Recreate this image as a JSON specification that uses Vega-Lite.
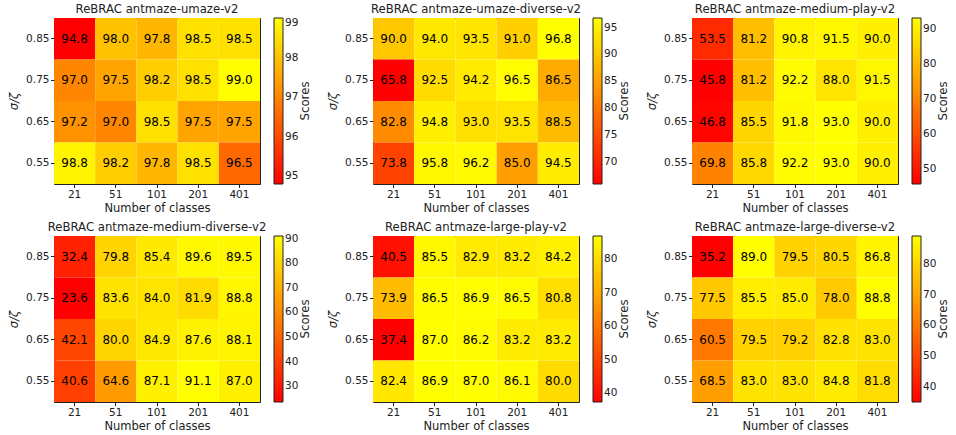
{
  "$schema": "https://vega.github.io/schema/vega-lite/v6.json",
  "padding": {"left": 8, "top": 3, "right": 0, "bottom": 0},
  "background": "white",
  "columns": 3,
  "spacing": {"row": 7, "column": 14},
  "datasets": {
    "umaze": [
      {"sigma": 0.85, "classes": 21, "score": 94.8}, {"sigma": 0.85, "classes": 51, "score": 98.0}, {"sigma": 0.85, "classes": 101, "score": 97.8}, {"sigma": 0.85, "classes": 201, "score": 98.5}, {"sigma": 0.85, "classes": 401, "score": 98.5},
      {"sigma": 0.75, "classes": 21, "score": 97.0}, {"sigma": 0.75, "classes": 51, "score": 97.5}, {"sigma": 0.75, "classes": 101, "score": 98.2}, {"sigma": 0.75, "classes": 201, "score": 98.5}, {"sigma": 0.75, "classes": 401, "score": 99.0},
      {"sigma": 0.65, "classes": 21, "score": 97.2}, {"sigma": 0.65, "classes": 51, "score": 97.0}, {"sigma": 0.65, "classes": 101, "score": 98.5}, {"sigma": 0.65, "classes": 201, "score": 97.5}, {"sigma": 0.65, "classes": 401, "score": 97.5},
      {"sigma": 0.55, "classes": 21, "score": 98.8}, {"sigma": 0.55, "classes": 51, "score": 98.2}, {"sigma": 0.55, "classes": 101, "score": 97.8}, {"sigma": 0.55, "classes": 201, "score": 98.5}, {"sigma": 0.55, "classes": 401, "score": 96.5}
    ],
    "umazediv": [
      {"sigma": 0.85, "classes": 21, "score": 90.0}, {"sigma": 0.85, "classes": 51, "score": 94.0}, {"sigma": 0.85, "classes": 101, "score": 93.5}, {"sigma": 0.85, "classes": 201, "score": 91.0}, {"sigma": 0.85, "classes": 401, "score": 96.8},
      {"sigma": 0.75, "classes": 21, "score": 65.8}, {"sigma": 0.75, "classes": 51, "score": 92.5}, {"sigma": 0.75, "classes": 101, "score": 94.2}, {"sigma": 0.75, "classes": 201, "score": 96.5}, {"sigma": 0.75, "classes": 401, "score": 86.5},
      {"sigma": 0.65, "classes": 21, "score": 82.8}, {"sigma": 0.65, "classes": 51, "score": 94.8}, {"sigma": 0.65, "classes": 101, "score": 93.0}, {"sigma": 0.65, "classes": 201, "score": 93.5}, {"sigma": 0.65, "classes": 401, "score": 88.5},
      {"sigma": 0.55, "classes": 21, "score": 73.8}, {"sigma": 0.55, "classes": 51, "score": 95.8}, {"sigma": 0.55, "classes": 101, "score": 96.2}, {"sigma": 0.55, "classes": 201, "score": 85.0}, {"sigma": 0.55, "classes": 401, "score": 94.5}
    ],
    "medplay": [
      {"sigma": 0.85, "classes": 21, "score": 53.5}, {"sigma": 0.85, "classes": 51, "score": 81.2}, {"sigma": 0.85, "classes": 101, "score": 90.8}, {"sigma": 0.85, "classes": 201, "score": 91.5}, {"sigma": 0.85, "classes": 401, "score": 90.0},
      {"sigma": 0.75, "classes": 21, "score": 45.8}, {"sigma": 0.75, "classes": 51, "score": 81.2}, {"sigma": 0.75, "classes": 101, "score": 92.2}, {"sigma": 0.75, "classes": 201, "score": 88.0}, {"sigma": 0.75, "classes": 401, "score": 91.5},
      {"sigma": 0.65, "classes": 21, "score": 46.8}, {"sigma": 0.65, "classes": 51, "score": 85.5}, {"sigma": 0.65, "classes": 101, "score": 91.8}, {"sigma": 0.65, "classes": 201, "score": 93.0}, {"sigma": 0.65, "classes": 401, "score": 90.0},
      {"sigma": 0.55, "classes": 21, "score": 69.8}, {"sigma": 0.55, "classes": 51, "score": 85.8}, {"sigma": 0.55, "classes": 101, "score": 92.2}, {"sigma": 0.55, "classes": 201, "score": 93.0}, {"sigma": 0.55, "classes": 401, "score": 90.0}
    ],
    "meddiv": [
      {"sigma": 0.85, "classes": 21, "score": 32.4}, {"sigma": 0.85, "classes": 51, "score": 79.8}, {"sigma": 0.85, "classes": 101, "score": 85.4}, {"sigma": 0.85, "classes": 201, "score": 89.6}, {"sigma": 0.85, "classes": 401, "score": 89.5},
      {"sigma": 0.75, "classes": 21, "score": 23.6}, {"sigma": 0.75, "classes": 51, "score": 83.6}, {"sigma": 0.75, "classes": 101, "score": 84.0}, {"sigma": 0.75, "classes": 201, "score": 81.9}, {"sigma": 0.75, "classes": 401, "score": 88.8},
      {"sigma": 0.65, "classes": 21, "score": 42.1}, {"sigma": 0.65, "classes": 51, "score": 80.0}, {"sigma": 0.65, "classes": 101, "score": 84.9}, {"sigma": 0.65, "classes": 201, "score": 87.6}, {"sigma": 0.65, "classes": 401, "score": 88.1},
      {"sigma": 0.55, "classes": 21, "score": 40.6}, {"sigma": 0.55, "classes": 51, "score": 64.6}, {"sigma": 0.55, "classes": 101, "score": 87.1}, {"sigma": 0.55, "classes": 201, "score": 91.1}, {"sigma": 0.55, "classes": 401, "score": 87.0}
    ],
    "largeplay": [
      {"sigma": 0.85, "classes": 21, "score": 40.5}, {"sigma": 0.85, "classes": 51, "score": 85.5}, {"sigma": 0.85, "classes": 101, "score": 82.9}, {"sigma": 0.85, "classes": 201, "score": 83.2}, {"sigma": 0.85, "classes": 401, "score": 84.2},
      {"sigma": 0.75, "classes": 21, "score": 73.9}, {"sigma": 0.75, "classes": 51, "score": 86.5}, {"sigma": 0.75, "classes": 101, "score": 86.9}, {"sigma": 0.75, "classes": 201, "score": 86.5}, {"sigma": 0.75, "classes": 401, "score": 80.8},
      {"sigma": 0.65, "classes": 21, "score": 37.4}, {"sigma": 0.65, "classes": 51, "score": 87.0}, {"sigma": 0.65, "classes": 101, "score": 86.2}, {"sigma": 0.65, "classes": 201, "score": 83.2}, {"sigma": 0.65, "classes": 401, "score": 83.2},
      {"sigma": 0.55, "classes": 21, "score": 82.4}, {"sigma": 0.55, "classes": 51, "score": 86.9}, {"sigma": 0.55, "classes": 101, "score": 87.0}, {"sigma": 0.55, "classes": 201, "score": 86.1}, {"sigma": 0.55, "classes": 401, "score": 80.0}
    ],
    "largediv": [
      {"sigma": 0.85, "classes": 21, "score": 35.2}, {"sigma": 0.85, "classes": 51, "score": 89.0}, {"sigma": 0.85, "classes": 101, "score": 79.5}, {"sigma": 0.85, "classes": 201, "score": 80.5}, {"sigma": 0.85, "classes": 401, "score": 86.8},
      {"sigma": 0.75, "classes": 21, "score": 77.5}, {"sigma": 0.75, "classes": 51, "score": 85.5}, {"sigma": 0.75, "classes": 101, "score": 85.0}, {"sigma": 0.75, "classes": 201, "score": 78.0}, {"sigma": 0.75, "classes": 401, "score": 88.8},
      {"sigma": 0.65, "classes": 21, "score": 60.5}, {"sigma": 0.65, "classes": 51, "score": 79.5}, {"sigma": 0.65, "classes": 101, "score": 79.2}, {"sigma": 0.65, "classes": 201, "score": 82.8}, {"sigma": 0.65, "classes": 401, "score": 83.0},
      {"sigma": 0.55, "classes": 21, "score": 68.5}, {"sigma": 0.55, "classes": 51, "score": 83.0}, {"sigma": 0.55, "classes": 101, "score": 83.0}, {"sigma": 0.55, "classes": 201, "score": 84.8}, {"sigma": 0.55, "classes": 401, "score": 81.8}
    ]
  },
  "concat": [
    {
      "title": "ReBRAC antmaze-umaze-v2",
      "data": {"name": "umaze"},
      "width": 206, "height": 166,
      "encoding": {
        "x": {"field": "classes", "type": "ordinal", "title": "Number of classes"},
        "y": {"field": "sigma", "type": "ordinal", "sort": "descending", "title": "σ/ζ"}
      },
      "layer": [
        {"mark": "rect", "encoding": {"color": {"field": "score", "type": "quantitative", "scale": {"range": ["#ff0000", "#ffff00"], "interpolate": "rgb", "zero": false, "nice": false}, "legend": {"values": [95, 96, 97, 98, 99], "title": "Scores", "encoding": {"title": {"angle": {"value": -90}}}}}}},
        {"mark": "text", "encoding": {"text": {"field": "score", "type": "quantitative", "format": ".1f"}}}
      ]
    },
    {
      "title": "ReBRAC antmaze-umaze-diverse-v2",
      "data": {"name": "umazediv"},
      "width": 206, "height": 166,
      "encoding": {
        "x": {"field": "classes", "type": "ordinal", "title": "Number of classes"},
        "y": {"field": "sigma", "type": "ordinal", "sort": "descending", "title": "σ/ζ"}
      },
      "layer": [
        {"mark": "rect", "encoding": {"color": {"field": "score", "type": "quantitative", "scale": {"range": ["#ff0000", "#ffff00"], "interpolate": "rgb", "zero": false, "nice": false}, "legend": {"values": [70, 75, 80, 85, 90, 95], "title": "Scores", "encoding": {"title": {"angle": {"value": -90}}}}}}},
        {"mark": "text", "encoding": {"text": {"field": "score", "type": "quantitative", "format": ".1f"}}}
      ]
    },
    {
      "title": "ReBRAC antmaze-medium-play-v2",
      "data": {"name": "medplay"},
      "width": 206, "height": 166,
      "encoding": {
        "x": {"field": "classes", "type": "ordinal", "title": "Number of classes"},
        "y": {"field": "sigma", "type": "ordinal", "sort": "descending", "title": "σ/ζ"}
      },
      "layer": [
        {"mark": "rect", "encoding": {"color": {"field": "score", "type": "quantitative", "scale": {"range": ["#ff0000", "#ffff00"], "interpolate": "rgb", "zero": false, "nice": false}, "legend": {"values": [50, 60, 70, 80, 90], "title": "Scores", "encoding": {"title": {"angle": {"value": -90}}}}}}},
        {"mark": "text", "encoding": {"text": {"field": "score", "type": "quantitative", "format": ".1f"}}}
      ]
    },
    {
      "title": "ReBRAC antmaze-medium-diverse-v2",
      "data": {"name": "meddiv"},
      "width": 206, "height": 166,
      "encoding": {
        "x": {"field": "classes", "type": "ordinal", "title": "Number of classes"},
        "y": {"field": "sigma", "type": "ordinal", "sort": "descending", "title": "σ/ζ"}
      },
      "layer": [
        {"mark": "rect", "encoding": {"color": {"field": "score", "type": "quantitative", "scale": {"range": ["#ff0000", "#ffff00"], "interpolate": "rgb", "zero": false, "nice": false}, "legend": {"values": [30, 40, 50, 60, 70, 80, 90], "title": "Scores", "encoding": {"title": {"angle": {"value": -90}}}}}}},
        {"mark": "text", "encoding": {"text": {"field": "score", "type": "quantitative", "format": ".1f"}}}
      ]
    },
    {
      "title": "ReBRAC antmaze-large-play-v2",
      "data": {"name": "largeplay"},
      "width": 206, "height": 166,
      "encoding": {
        "x": {"field": "classes", "type": "ordinal", "title": "Number of classes"},
        "y": {"field": "sigma", "type": "ordinal", "sort": "descending", "title": "σ/ζ"}
      },
      "layer": [
        {"mark": "rect", "encoding": {"color": {"field": "score", "type": "quantitative", "scale": {"range": ["#ff0000", "#ffff00"], "interpolate": "rgb", "zero": false, "nice": false}, "legend": {"values": [40, 50, 60, 70, 80], "title": "Scores", "encoding": {"title": {"angle": {"value": -90}}}}}}},
        {"mark": "text", "encoding": {"text": {"field": "score", "type": "quantitative", "format": ".1f"}}}
      ]
    },
    {
      "title": "ReBRAC antmaze-large-diverse-v2",
      "data": {"name": "largediv"},
      "width": 206, "height": 166,
      "encoding": {
        "x": {"field": "classes", "type": "ordinal", "title": "Number of classes"},
        "y": {"field": "sigma", "type": "ordinal", "sort": "descending", "title": "σ/ζ"}
      },
      "layer": [
        {"mark": "rect", "encoding": {"color": {"field": "score", "type": "quantitative", "scale": {"range": ["#ff0000", "#ffff00"], "interpolate": "rgb", "zero": false, "nice": false}, "legend": {"values": [40, 50, 60, 70, 80], "title": "Scores", "encoding": {"title": {"angle": {"value": -90}}}}}}},
        {"mark": "text", "encoding": {"text": {"field": "score", "type": "quantitative", "format": ".1f"}}}
      ]
    }
  ],
  "resolve": {"scale": {"color": "independent"}},
  "config": {
    "font": "DejaVu Sans",
    "view": {"stroke": "#222222", "strokeWidth": 1},
    "scale": {"bandPaddingInner": 0, "bandPaddingOuter": 0, "rectBandPaddingInner": 0},
    "title": {"fontSize": 11.7, "fontWeight": "normal", "color": "#222222", "offset": 2, "font": "DejaVu Sans"},
    "text": {"fontSize": 12, "color": "#000000", "font": "DejaVu Sans"},
    "axis": {
      "domain": false,
      "labelAngle": 0,
      "labelFontSize": 10.5,
      "labelColor": "#222222",
      "labelFont": "DejaVu Sans",
      "tickColor": "#222222",
      "tickSize": 3.5,
      "labelPadding": 2,
      "titleFontSize": 11.5,
      "titleFontWeight": "normal",
      "titleColor": "#222222",
      "titleFont": "DejaVu Sans",
      "titlePadding": 2
    },
    "axisY": {"titleFontStyle": "italic", "titlePadding": 6, "labelPadding": 1.5},
    "legend": {
      "orient": "right",
      "offset": 14,
      "gradientLength": 166,
      "gradientThickness": 9,
      "gradientStrokeColor": "#222222",
      "gradientStrokeWidth": 1,
      "labelFontSize": 10.5,
      "labelColor": "#222222",
      "labelFont": "DejaVu Sans",
      "labelOffset": 5,
      "titleOrient": "right",
      "titleBaseline": "top",
      "titleFontSize": 11.8,
      "titleFontWeight": "normal",
      "titleColor": "#222222",
      "titleFont": "DejaVu Sans",
      "titlePadding": 2,
      "padding": 0
    }
  }
}
